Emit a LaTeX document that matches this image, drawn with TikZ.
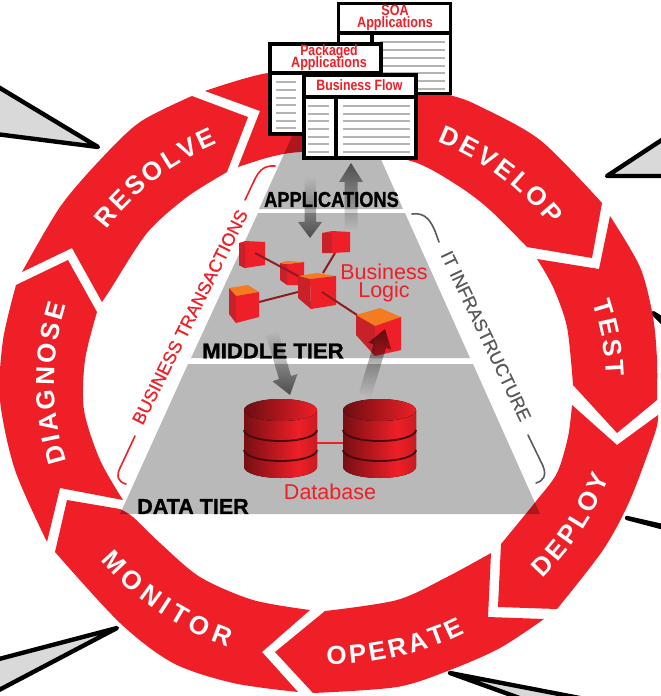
\documentclass[tikz,border=0pt]{standalone}
\usepackage{fontspec}
\usetikzlibrary{decorations.text,fadings}
\setmainfont{Liberation Sans}
\newfontfamily\tierfam[FakeBold=1.2]{Liberation Sans Bold}
\newfontfamily\sidefam[FakeBold=0.5]{Liberation Sans}
\definecolor{ringred}{HTML}{EE1F27}
\definecolor{brackgray}{HTML}{5A5A5A}
\definecolor{linkred}{HTML}{8E1B20}
\definecolor{cubeside}{HTML}{C9212A}
\definecolor{cubetop}{HTML}{F47C20}
\definecolor{wedgegray}{HTML}{D9D9D9}
\definecolor{winline}{HTML}{B4B4B4}
\pgfdeclarehorizontalshading{cylbody}{100bp}{
  color(0bp)=(ringred!50!black); color(25bp)=(ringred!50!black); color(62bp)=(ringred); color(75bp)=(ringred!85!black); color(100bp)=(ringred!60!black)}
\newcommand{\rk}{\kern3pt}
\newcommand{\rw}{\kern5.5pt}
\newcommand{\tightlines}{\lineskiplimit=-20pt\relax}
\tikzset{
  band/.style={fill=ringred},
  tier/.style={fill=black,fill opacity=.275},
  wedge/.style={draw=black,fill=wedgegray,line width=4.4pt,line join=round,line cap=round},
  winbox/.style={draw=black,fill=white,line width=3.8pt},
  winrule/.style={draw=winline,line width=2pt},
  lbl/.style={inner sep=0pt,outer sep=0pt,anchor=center},
  wintext/.style={lbl,text=ringred,align=center,font=\fontsize{15}{12}\selectfont\bfseries\tightlines},
  tiertext/.style={lbl,text=black,font=\tierfam\fontsize{21.5}{20}\selectfont},
  redtext/.style={lbl,text=ringred,align=center,font=\fontsize{21.5}{18}\selectfont},
  sidetext/.style={lbl,font=\sidefam\fontsize{18}{18}\selectfont},
  brack/.style={line width=1.6pt,line cap=round},
  link/.style={draw=linkred,line width=2pt},
  flow/.style={fill=black,fill opacity=.58},
  ringword/.style={decorate,decoration={text along path,text align=center,text={|\bfseries\fontsize{26}{26}\selectfont\color{white}|#1}}}
}
\newcommand{\cyl}[2]{% left x, top y
  \fill[shading=cylbody]
    (#1,#2) -- (#1,#2+57) arc[start angle=180,end angle=0,x radius=36.5,y radius=11]
    -- (#1+73,#2) arc[start angle=0,end angle=180,x radius=36.5,y radius=11] -- cycle;
  \fill[left color=ringred!45!black,right color=ringred]
    (#1+36.5,#2) ellipse[x radius=36.5,y radius=11];
  \foreach \bandy in {20,40}
    \draw[draw=ringred!30!black,line width=1.8pt]
      (#1,#2+\bandy) arc[start angle=180,end angle=0,x radius=36.5,y radius=11];
}
\begin{document}
\begin{tikzpicture}[x=1pt,y=-1pt]
\useasboundingbox (0,0) rectangle (661,696);
\clip (0,0) rectangle (661,696);
\fill[white] (0,0) rectangle (661,696);

% callout wedges
\draw[wedge] (-20,76) -- (98,147) -- (-20,132) -- cycle;
\draw[wedge] (680,128) -- (607,176) -- (680,176) -- cycle;
\draw[wedge] (653,313) -- (680,340) -- (680,330) -- cycle;
\draw[wedge] (627,518) -- (680,532) -- (680,530) -- cycle;
\draw[wedge] (450,673) -- (590,700) -- (525,700) -- cycle;
\draw[wedge] (117,628) -- (-20,664) -- (-20,700) -- cycle;

% ring segments
\fill[band] plot[smooth] coordinates {(205,91) (268,73) (340,72) (400,80) (450,95) (477,105) (540,140) (602,203)}
  -- (592,258) -- (527,247)
  -- plot[smooth] coordinates {(527,247) (490,210) (460,187) (417,163) (360,151) (300,152) (270,157) (238,167)}
  -- (260,111) -- cycle;
\fill[band] plot[smooth] coordinates {(610,216) (640,267) (653,317) (657,360) (657,400)}
  -- (617,433) -- (573,385)
  -- plot[smooth] coordinates {(573,385) (567,327) (553,287) (537,259)}
  -- (599,269) -- cycle;
\fill[band] plot[smooth] coordinates {(658,415) (655,433) (630,500) (603,550) (557,609)}
  -- (498,607) -- (501,544)
  -- plot[smooth] coordinates {(501,544) (537,500) (557,473) (568,437) (572,405)}
  -- (617,445) -- cycle;
\fill[band] plot[smooth] coordinates {(544,619) (500,648) (450,670) (397,687) (313,693)}
  -- (275,652) -- (325,611)
  -- plot[smooth] coordinates {(325,611) (397,600) (447,577) (491,553)}
  -- (488,617) -- cycle;
\fill[band] plot[smooth] coordinates {(298,692) (233,683) (173,663) (120,623) (55,552)}
  -- (67,500) -- (120,509)
  -- plot[smooth] coordinates {(120,509) (133,517) (160,543) (200,577) (253,600) (310,610)}
  -- (262,652) -- cycle;
\fill[band] plot[smooth] coordinates {(47,542) (15,470) (0,400) (3,340) (16,285)}
  -- (68,260) -- (97,312)
  -- plot[smooth] coordinates {(97,312) (85,360) (84,410) (100,460) (123,500)}
  -- (60,488) -- cycle;
\fill[band] plot[smooth] coordinates {(22,272) (60,207) (100,160) (140,122) (192,96)}
  -- (248,117) -- (227,172)
  -- plot[smooth] coordinates {(227,172) (187,197) (147,233) (110,290) (102,302)}
  -- (72,248) -- cycle;

% ring words
\path[ringword={{D\rk}{E\rk}{V\rk}{E\rk}{L\rk}{O\rk}P}] plot[domain=89.5:13.5,samples=50] ({330+276*cos(\x)},{383-262*sin(\x)});
\path[ringword={{T\rk}{E\rk}{S\rk}T}] plot[domain=40.5:-21.5,samples=50] ({330+276*cos(\x)},{383-262*sin(\x)});
\path[ringword={{R\rk}{E\rk}{S\rk}{O\rk}{L\rk}{V\rk}E}] plot[domain=167:92,samples=50] ({330+276*cos(\x)},{383-262*sin(\x)});
\path[ringword={{D\rk}{I\rk}{A\rk}{G\rk}{N\rk}{O\rk}{S\rk}E}] plot[domain=225:135,samples=50] ({330+276*cos(\x)},{383-262*sin(\x)});
\path[ringword={{D\rk}{E\rk}{P\rk}{L\rk}{O\rk}Y}] plot[domain=-65:2,samples=50] ({330+296*cos(\x)},{383-281*sin(\x)});
\path[ringword={{O\rk}{P\rk}{E\rk}{R\rk}{A\rk}{T\rk}E}] plot[domain=-115:-38,samples=50] ({330+296*cos(\x)},{383-281*sin(\x)});
\path[ringword={{M\rw}{O\rw}{N\rw}{I\rw}{T\rw}{O\rw}R}] plot[domain=-165:-87,samples=50] ({330+296*cos(\x)},{383-281*sin(\x)});

% pyramid tiers
\fill[tier] (295,130) -- (368,130) -- (403,209) -- (259,209) -- cycle;
\fill[tier] (258,213) -- (405,213) -- (470,358) -- (191,358) -- cycle;
\fill[tier] (188,364) -- (473,364) -- (540,514) -- (120,514) -- cycle;

% side brackets
\draw[brack,draw=ringred] (245,200) .. controls (257,176) and (258,165) .. (275,166);
\draw[brack,draw=ringred] (135,436) -- (120,468) .. controls (116,476) and (118,482) .. (126,484);
\draw[brack,draw=brackgray] (412,214) .. controls (426,212) and (431,222) .. (435,231) -- (439,242);
\draw[brack,draw=brackgray] (528,435) -- (543,466) .. controls (547,476) and (543,481) .. (536,483);
\node[sidetext,text=ringred,rotate=63.5] (bt) at (190,317) {BUSINESS TRANSACTIONS};
\node[sidetext,text=brackgray,rotate=-64.5] (it) at (486,336) {IT INFRASTRUCTURE};

% data flow arrows
\fill[flow,path fading=south] (344.5,230) -- (344.5,182) -- (339,182) -- (351,163) -- (363,182) -- (357.5,182) -- (357.5,230) -- cycle;
\fill[flow,path fading=north] (304.5,177) -- (304.5,222) -- (298,222) -- (310,238) -- (322,222) -- (316,222) -- (316,177) -- cycle;

% business logic cubes and links
\draw[link] (323,273) -- (335,253);
\fill[ringred] (322,233) -- (332,231) -- (350,232) -- (350,252) -- (332,253) -- (322,253) -- cycle;
\fill[cubeside] (322,233) -- (332,233) -- (332,253) -- (322,253) -- cycle;
\fill[ringred] (239,243) -- (245,241) -- (265,242) -- (265,265) -- (245,268) -- (239,265) -- cycle;
\fill[cubeside] (239,243) -- (245,243) -- (245,268) -- (239,265) -- cycle;
\fill[ringred] (287,264) -- (304,262) -- (304,285) -- (293,285) -- (287,285) -- cycle;
\fill[cubeside] (280,263) -- (287,264) -- (287,285) -- (280,280) -- cycle;
\fill[cubetop] (280,263) -- (286,261) -- (304,262) -- (287,264) -- cycle;
\draw[link] (255,253) -- (300,277);
\draw[link] (259,302) -- (298,292);
\fill[cubetop] (229,288) -- (248,285) -- (259,292) -- (236,296) -- cycle;
\fill[cubeside] (229,288) -- (236,296) -- (236,323) -- (229,314) -- cycle;
\fill[ringred] (236,296) -- (259,292) -- (259,317) -- (236,323) -- cycle;
\fill[cubetop] (298,276) -- (317,273) -- (336,276) -- (310,279) -- cycle;
\fill[cubeside] (298,276) -- (310,279) -- (311,309) -- (298,298) -- cycle;
\fill[ringred] (310,279) -- (336,276) -- (336,305) -- (311,309) -- cycle;
\fill[cubetop] (356,315) -- (380,308) -- (401,317) -- (375,326) -- cycle;
\fill[cubeside] (356,315) -- (375,326) -- (375,356) -- (356,335) -- cycle;
\fill[ringred] (375,326) -- (401,317) -- (401,350) -- (375,356) -- cycle;
\draw[link] (322,292) -- (357,315);

\fill[flow,path fading=south] (358.8,393.1) -- (373.6,344.4) -- (368.3,342.7) -- (385,329) -- (391.3,349.7) -- (386,348) -- (371.2,396.9) -- cycle;
\fill[flow,path fading=north] (266,335) -- (279,379) -- (272.5,381.3) -- (290,395) -- (297.5,374) -- (291,376) -- (278,331) -- cycle;

% databases
\cyl{244}{410}
\cyl{343}{410}
\draw[draw=ringred,line width=2.8pt] (317,443) -- (343,443);

\node[redtext] (bl) at (384,283) {Business\\Logic};
\node[redtext] (db) at (330,492) {Database};
\node[tiertext] (apps) at (331.5,199.5) {\scalebox{.85}[1]{APPLICATIONS}};
\node[tiertext] (mid) at (273,351) {\scalebox{1.03}[1]{MIDDLE TIER}};
\node[tiertext] (data) at (193,506.5) {DATA TIER};

% application windows
\draw[winbox] (338.5,3.5) rectangle (450.5,93.5);
\draw[winbox,fill=none] (338.5,33) -- (450.5,33) (372,33) -- (372,93.5);
\foreach \yy in {42,50,58,66,73,81,89} \draw[winrule] (380,\yy) -- (445,\yy);
\draw[winbox] (269.7,43.7) rectangle (381.3,134.3);
\draw[winbox,fill=none] (269.7,73) -- (381.3,73);
\foreach \yy in {82,90,98,105,113,121,128} \draw[winrule] (276,\yy) -- (296,\yy);
\draw[winbox] (303.7,74.7) rectangle (416.3,158.3);
\draw[winbox,fill=none] (303.7,97) -- (416.3,97) (336,97) -- (336,158.3);
\foreach \yy in {106,114,121,129,137,144,152} {
  \draw[winrule] (308,\yy) -- (329,\yy);
  \draw[winrule] (343,\yy) -- (410,\yy);
}
\node[wintext] (soa) at (395,18) {\scalebox{.84}[1]{SOA}\\\scalebox{.84}[1]{Applications}};
\node[wintext] (pkg) at (329,57.5) {\scalebox{.82}[1]{Packaged}\\\scalebox{.84}[1]{Applications}};
\node[wintext] (bf) at (359.5,85.5) {\scalebox{.82}[1]{Business Flow}};
\end{tikzpicture}
\end{document}
